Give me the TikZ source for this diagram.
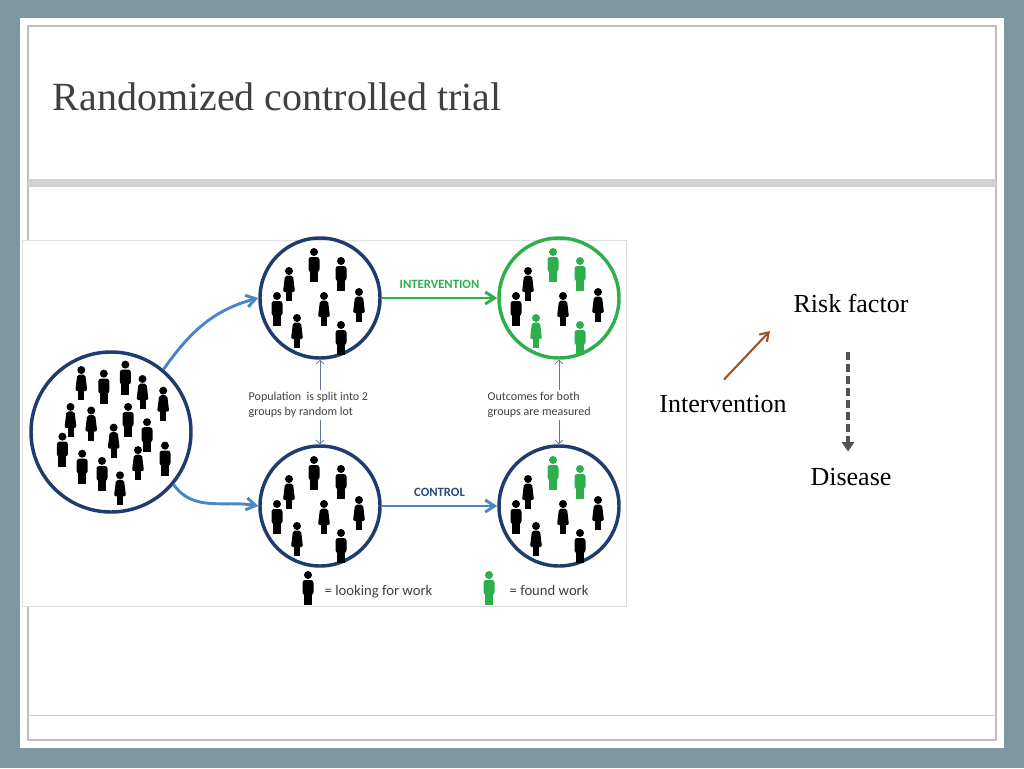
\documentclass[tikz,border=0pt]{standalone}
\usepackage{fontspec}
\setmainfont{Liberation Serif}
\newfontfamily\carl{Carlito}
\usetikzlibrary{arrows.meta,calc}
\definecolor{bg}{HTML}{7E98A3}
\definecolor{navy}{HTML}{1F3C6E}
\definecolor{arrblue}{HTML}{4A86C5}
\definecolor{grn}{HTML}{2DB04B}
\definecolor{txt}{HTML}{404040}
\definecolor{brn}{HTML}{A0522D}
\tikzset{
 circ/.style={circle,draw=navy,line width=2.6pt,minimum size=90pt,inner sep=0},
 big/.style={circ,minimum size=120pt},
 lbl/.style={font=\carl\fontsize{9}{11}\selectfont,text=txt,align=left,anchor=west},
 man/.pic={\fill (0,4) circle (4);
   \fill[rounded corners=2] (-5.5,9) rectangle (5.5,24);
   \fill (-4,22) rectangle (4,34);},
 woman/.pic={\fill (0,4) circle (4);
   \fill[rounded corners=1.5] (-4,8.5) -- (4,8.5) -- (6,25) -- (-6,25) -- cycle;
   \fill (-3,24) rectangle (3,34);},
 slbl/.style={font=\fontsize{19.5}{22}\selectfont,text=black},
}
\begin{document}
\begin{tikzpicture}[x=0.75pt,y=-0.75pt]
\fill[bg] (0,0) rectangle (1024,768);
\fill[white] (20,18) rectangle (1004,748);
\draw[gray!50,line width=0.8pt] (28,26) rectangle (996,740);
\fill[gray!35] (28,179) rectangle (996,187);
\draw[gray!40] (28,715) -- (996,715);
\node[anchor=west,font=\fontsize{30}{34}\selectfont,text=txt] (title) at (48,97) {Randomized controlled trial};
% image panel
\draw[gray!25,fill=white] (22,240) rectangle (626,606);
\node[big] (P) at (111,432) {};
\node[circ] (TM) at (320,298) {};
\node[circ] (BM) at (320,506) {};
\node[circ,draw=grn] (TR) at (559,298) {};
\node[circ] (BR) at (559,506) {};
% people
\foreach \dx/\dy/\t in {-33/-70/woman,-8/-66/man,16/-76/man,35/-60/woman,58/-47/woman,-45/-29/woman,-22/-25/woman,19/-29/man,-54/4/man,3/-6/woman,40/-12/man,-32/23/man,-10/31/man,30/19/woman,60/14/man,10/47/woman}
  \pic[color=black] at ($(111,432)+(0.9*\dx,0.9*\dy-3)$) {\t};
\foreach \cx/\cy/\ca/\cb/\cc/\cd in {320/298/black/black/black/black,320/506/black/black/black/black,559/298/grn/grn/grn/grn,559/506/grn/grn/black/black}{
 \foreach \dx/\dy/\t/\col in {-31/-40/woman/black,-6/-59/man/\ca,21/-50/man/\cb,-43/-15/man/black,4/-15/woman/black,39/-19/woman/black,-23/7/woman/\cc,21/14/man/\cd}
  \pic[color=\col] at (\cx+\dx,\cy+\dy+9) {\t};
}
% arrows
\draw[-{Straight Barb[length=7pt,width=9pt]},arrblue,line width=2.2pt] (P.50) to[out=55,in=195] (TM.west);
\draw[-{Straight Barb[length=7pt,width=9pt]},arrblue,line width=2.2pt] (P.-40) to[out=-55,in=170] (BM.west);
\draw[-{Straight Barb[length=7pt,width=9pt]},grn,line width=2.2pt] (TM.east) -- node[above=3pt,font=\carl\bfseries\fontsize{9.5}{11}\selectfont,text=grn] (iv) {INTERVENTION} (TR.west);
\draw[-{Straight Barb[length=7pt,width=9pt]},arrblue,line width=2.2pt] (BM.east) -- node[above=3pt,font=\carl\bfseries\fontsize{9.5}{11}\selectfont,text=navy!80!arrblue] (ct) {CONTROL} (BR.west);
\node[lbl] (t1) at (244,405) {Population\ \ is split into 2\\groups by random lot};
\node[lbl] (t2) at (483,405) {Outcomes for both\\groups are measured};
\coordinate (a1) at (320,390); \coordinate (a2) at (320,420);
\coordinate (b1) at (559,390); \coordinate (b2) at (559,420);
\draw[-{Straight Barb[length=3pt]},navy!70,line width=0.5pt] (a1) -- (TM.south);
\draw[-{Straight Barb[length=3pt]},navy!70,line width=0.5pt] (a2) -- (BM.north);
\draw[-{Straight Barb[length=3pt]},navy!70,line width=0.5pt] (b1) -- (TR.south);
\draw[-{Straight Barb[length=3pt]},navy!70,line width=0.5pt] (b2) -- (BR.north);
\pic[color=black] at (308,571) {man};
\node[lbl,font=\carl\fontsize{11}{13}\selectfont] (l1) at (320,592) {= looking for work};
\pic[color=grn] at (489,571) {man};
\node[lbl,font=\carl\fontsize{11}{13}\selectfont] (l2) at (505,590) {= found work};
% right diagram
\node[slbl] (rf) at (851,303) {Risk factor};
\node[slbl] (in) at (723,404) {Intervention};
\node[slbl] (ds) at (851,477) {Disease};
\draw[-{Straight Barb[length=6pt,width=8pt]},brn,line width=1.6pt] ($(in.north)+(1,-11)$) -- ($(rf.south west)+(-19,14)$);
\draw[-{Triangle[length=7pt,width=9pt]},gray!20!black!75,line width=2.4pt,dash pattern=on 6pt off 3pt] ($(rf.south)+(-3,35)$) -- ($(ds.north)+(-3,-12)$);
\end{tikzpicture}
\end{document}
